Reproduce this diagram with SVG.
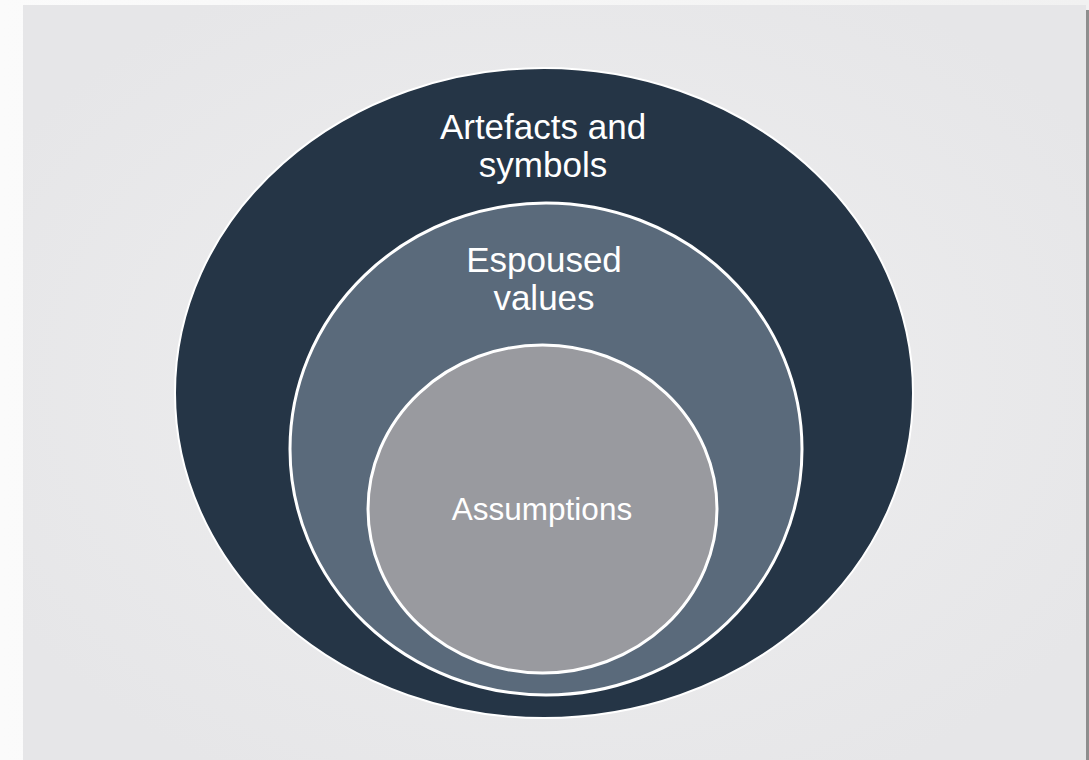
<svg xmlns="http://www.w3.org/2000/svg" width="1089" height="760" viewBox="0 0 1089 760">
  <defs>
    <radialGradient id="bg" cx="0.5" cy="0.5" r="0.6">
      <stop offset="0" stop-color="#efeff0"/>
      <stop offset="1" stop-color="#e6e6e8"/>
    </radialGradient>
    <linearGradient id="edge" x1="0" y1="0" x2="1" y2="0">
      <stop offset="0" stop-color="#fbfbfb"/>
      <stop offset="1" stop-color="#f1f1f1"/>
    </linearGradient>
    <style>
      .ring { stroke: #ffffff; }
      .lbl { font-family: "Liberation Sans", Arial, sans-serif; fill: #ffffff; text-anchor: middle; }
    </style>
  </defs>
  <rect x="0" y="0" width="1089" height="760" fill="url(#edge)"/>
  <rect x="23" y="5" width="1063" height="755" fill="url(#bg)"/>
  <rect x="1086" y="10" width="3" height="750" fill="#8e8e8e"/>

  <g id="artefacts">
    <ellipse class="ring" cx="544" cy="393" rx="369" ry="325" fill="#253546" stroke-width="2"/>
    <text class="lbl" x="543" y="139" font-size="35">Artefacts and</text>
    <text class="lbl" x="543" y="177" font-size="35">symbols</text>
  </g>
  <g id="espoused">
    <ellipse class="ring" cx="546" cy="449" rx="256" ry="246" fill="#5a6a7b" stroke-width="3"/>
    <text class="lbl" x="544" y="272" font-size="35">Espoused</text>
    <text class="lbl" x="544" y="310" font-size="35">values</text>
  </g>
  <g id="assumptions">
    <ellipse class="ring" cx="542.5" cy="509" rx="174.5" ry="164" fill="#999a9f" stroke-width="3"/>
    <text class="lbl" x="542" y="520" font-size="31.5">Assumptions</text>
  </g>
  <g id="connectors"/>
</svg>
